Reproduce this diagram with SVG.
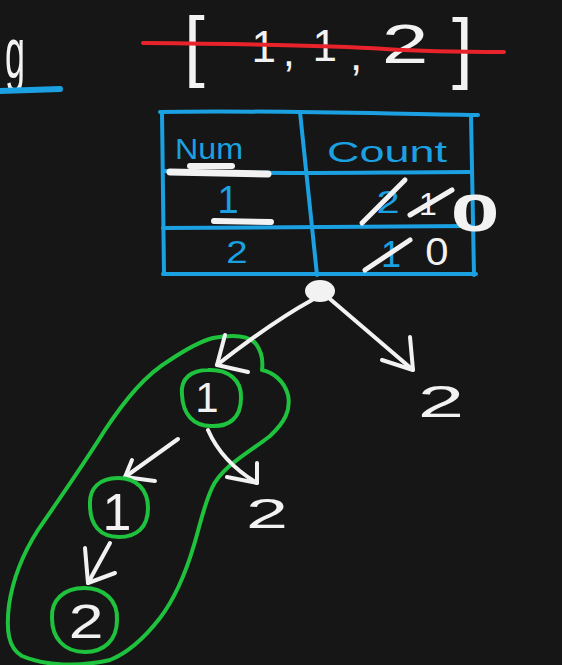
<svg xmlns="http://www.w3.org/2000/svg" width="562" height="665" viewBox="0 0 562 665">
  <style>
    .bg { fill: #161616; }
    .txt { font-family: "Liberation Sans", Arial, sans-serif; }
    .w { fill: #f2f2f2; }
    .b { fill: #1ba1e2; }
    .wl { fill: none; stroke: #f2f2f2; stroke-width: 4; stroke-linecap: round; stroke-linejoin: round; }
    .bl { fill: none; stroke: #1ba1e2; stroke-width: 4; stroke-linecap: round; stroke-linejoin: round; }
    .gl { fill: none; stroke: #1fc23d; stroke-width: 4; stroke-linecap: round; stroke-linejoin: round; }
    .rl { fill: none; stroke: #e8232b; stroke-width: 4; stroke-linecap: round; }
  </style>
  <rect class="bg" x="0" y="0" width="562" height="665"/>

  <!-- partial text at left edge -->
  <g id="edge-note">
    <text class="txt w" transform="translate(5,78) scale(1,2)" font-size="36">g</text>
    <path d="M0,91 L60,89" fill="none" stroke="#1ba1e2" stroke-width="6" stroke-linecap="round"/>
  </g>

  <!-- input array, struck through -->
  <g id="array">
    <text class="txt w" transform="translate(184,72) scale(1.1,1.15)" font-size="68">[</text>
    <text class="txt w">
      <tspan x="266" y="62" font-size="44" text-anchor="middle">1</tspan>
      <tspan x="291" y="66" font-size="44" text-anchor="middle">,</tspan>
      <tspan x="327" y="61" font-size="44" text-anchor="middle">1</tspan>
      <tspan x="356" y="70" font-size="44" text-anchor="middle">,</tspan>
    </text>
    <text class="txt w" transform="translate(405,63) scale(1.5,1)" font-size="56" text-anchor="middle">2</text>
    <text class="txt w" transform="translate(452,74) scale(1.1,1.15)" font-size="68">]</text>
    <path class="rl" d="M143,43 C250,44 340,46 385,49 S470,52 504,52"/>
  </g>

  <!-- frequency table -->
  <g id="count-table">
    <path class="bl" d="M160,112 C250,110 350,113 478,115"/>
    <path class="bl" d="M162,112 L164,274"/>
    <path class="bl" d="M471,115 L474,275"/>
    <path class="bl" d="M163,171 C250,175 380,172 470,172"/>
    <path class="bl" d="M163,228 L470,226"/>
    <path class="bl" d="M163,274 L476,274"/>
    <path class="bl" d="M300,112 L317,275"/>

    <text class="txt b" x="175" y="159" font-size="30" textLength="68" lengthAdjust="spacingAndGlyphs">Num</text>
    <text class="txt b" x="327" y="162" font-size="30" textLength="120" lengthAdjust="spacingAndGlyphs">Count</text>
    <path d="M170,172 L268,174" fill="none" stroke="#f2f2f2" stroke-width="7" stroke-linecap="round"/>
    <path d="M190,166 L232,166" fill="none" stroke="#f2f2f2" stroke-width="6" stroke-linecap="round"/>

    <text class="txt b" x="228" y="213" font-size="38" text-anchor="middle">1</text>
    <path d="M214,221 L271,222" fill="none" stroke="#f2f2f2" stroke-width="6" stroke-linecap="round"/>
    <text class="txt b" transform="translate(237,263) scale(1.2,1)" font-size="32" text-anchor="middle">2</text>

    <text class="txt b" transform="translate(388,213) scale(1.3,1)" font-size="32" text-anchor="middle">2</text>
    <path d="M362,223 L405,180" fill="none" stroke="#f2f2f2" stroke-width="5" stroke-linecap="round"/>
    <text class="txt w" x="428" y="215" font-size="32" text-anchor="middle">1</text>
    <path d="M410,215 L452,190" fill="none" stroke="#f2f2f2" stroke-width="5" stroke-linecap="round"/>
    <text class="txt w" transform="translate(475,231) scale(1.7,1)" font-size="52" font-weight="bold" text-anchor="middle">0</text>

    <text class="txt b" x="391" y="267" font-size="36" text-anchor="middle">1</text>
    <path d="M365,270 L410,240" fill="none" stroke="#f2f2f2" stroke-width="5" stroke-linecap="round"/>
    <text class="txt w" transform="translate(437,265) scale(1.1,1)" font-size="38" text-anchor="middle">0</text>
  </g>

  <!-- green highlight around chosen path -->
  <g id="highlight">
    <path class="gl" d="M213,338 C230,335 248,334 256,344 C262,352 263,362 262,370 C272,372 284,380 288,395 C291,410 285,422 270,436 C250,452 222,466 212,488 C204,505 200,525 194,545 C186,572 176,597 160,618 C146,636 130,652 110,660 C80,667 45,666 22,656 C8,648 6,630 9,605 C13,578 22,555 38,530 C55,505 80,470 105,430 C125,400 145,375 170,360 C185,350 198,342 213,338 Z"/>
  </g>

  <!-- connectors -->
  <g id="connectors">
    <path class="wl" d="M312,300 Q272,322 217,365"/>
    <path class="wl" d="M225,335 L217,365 L248,372"/>
    <path class="wl" d="M330,299 L413,370"/>
    <path class="wl" d="M410,337 L413,370 L382,360"/>
    <path class="wl" d="M178,439 L125,477"/>
    <path class="wl" d="M132,460 L125,477 L155,481"/>
    <path class="wl" d="M208,430 Q222,462 257,483"/>
    <path class="wl" d="M257,463 L257,483 L227,477"/>
    <path class="wl" d="M110,543 L88,583" stroke-width="6"/>
    <path class="wl" d="M85,548 L88,583 L115,573"/>
  </g>

  <!-- tree nodes -->
  <g id="root">
    <ellipse cx="320" cy="291" rx="15" ry="11" fill="#f2f2f2"/>
  </g>
  <g id="node-1-level1">
    <path class="gl" d="M182,395 C180,378 192,370 208,370 C228,369 242,380 241,398 C241,418 229,427 211,426 C193,426 183,414 182,395 Z"/>
    <text class="txt w" x="207" y="412" font-size="42" text-anchor="middle">1</text>
  </g>
  <g id="leaf-2-level1">
    <text class="txt w" transform="translate(441,417) scale(1.9,1)" font-size="44" text-anchor="middle">2</text>
  </g>
  <g id="node-1-level2">
    <path class="gl" d="M90,505 C89,488 100,478 118,478 C137,478 148,490 148,508 C148,527 137,537 119,537 C100,537 90,525 90,505 Z"/>
    <text class="txt w" x="117" y="530" font-size="52" text-anchor="middle">1</text>
  </g>
  <g id="leaf-2-level2">
    <text class="txt w" transform="translate(267,528) scale(1.8,1)" font-size="42" text-anchor="middle">2</text>
  </g>
  <g id="node-2-level3">
    <path class="gl" d="M52,618 C51,600 64,588 84,588 C104,588 118,600 117,620 C117,640 104,652 85,652 C64,652 52,638 52,618 Z"/>
    <text class="txt w" transform="translate(86,638) scale(1.3,1)" font-size="48" text-anchor="middle">2</text>
  </g>
</svg>
